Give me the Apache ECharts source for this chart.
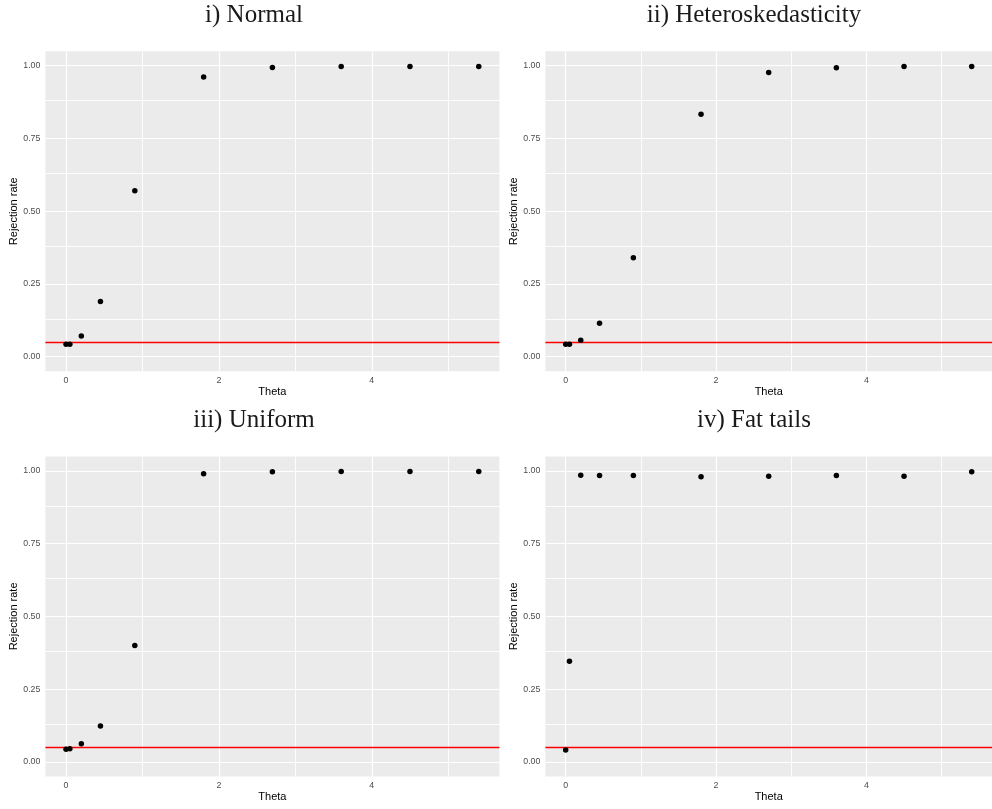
<!DOCTYPE html>
<html>
<head>
<meta charset="utf-8">
<script src="https://cdn.jsdelivr.net/npm/echarts@6/dist/echarts.min.js"></script>
<style>
  html, body { margin: 0; padding: 0; background: #ffffff; }
  #chart { width: 992px; height: 809px; }
</style>
</head>
<body>
<div id="chart"></div>
<script>
// ---- data ----
const theta = [0, 0.05, 0.2, 0.45, 0.9, 1.8, 2.7, 3.6, 4.5, 5.4];
const normalRate  = [0.043, 0.043, 0.071, 0.190, 0.570, 0.961, 0.994, 0.997, 0.997, 0.997];
const heteroRate  = [0.043, 0.043, 0.056, 0.115, 0.340, 0.833, 0.977, 0.993, 0.997, 0.997];
const uniformRate = [0.043, 0.045, 0.062, 0.123, 0.400, 0.990, 0.997, 0.998, 0.998, 0.998];
const fatRate     = [0.041, 0.346, 0.985, 0.984, 0.984, 0.980, 0.982, 0.984, 0.982, 0.997];
const panelTitles = ['i) Normal', 'ii) Heteroskedasticity', 'iii) Uniform', 'iv) Fat tails'];
const panelRates = [normalRate, heteroRate, uniformRate, fatRate];
const xMajorTicks = [0, 2, 4];
const xMinorTicks = [1, 3, 5];
const yMajorTicks = [0, 0.25, 0.5, 0.75, 1];
const yMinorTicks = [0.125, 0.375, 0.625, 0.875];
const nominalLevel = 0.05;
const xLabel = 'Theta';
const yLabel = 'Rejection rate';

// ---- layout ----
const layout = [
  { left: 45.4, top: 51.2, titleX: 254, titleY: 3 },
  { left: 545.4, top: 51.2, titleX: 754, titleY: 3 },
  { left: 45.4, top: 456.4, titleX: 254, titleY: 408 },
  { left: 545.4, top: 456.4, titleX: 754, titleY: 408 }
];
const gridW = 454, gridH = 320;

const titles = [], grids = [], xAxes = [], yAxes = [], series = [];
panelTitles.forEach((t, i) => {
  const L = layout[i];
  titles.push({
    text: t, left: L.titleX, top: L.titleY, textAlign: 'center', padding: 0,
    textStyle: { fontFamily: 'Liberation Serif', fontWeight: 'normal', fontSize: 25, color: '#1a1a1a' }
  });
  grids.push({
    left: L.left, top: L.top, width: gridW, height: gridH,
    show: true, backgroundColor: '#EBEBEB', borderWidth: 0, containLabel: false
  });
  xAxes.push({
    gridIndex: i, type: 'value', min: -0.27, max: 5.67,
    name: xLabel, nameLocation: 'middle', nameGap: 15,
    nameTextStyle: { fontFamily: 'Liberation Sans', fontSize: 11, color: '#000' },
    axisLine: { show: false },
    axisTick: { show: true, length: 3, customValues: xMajorTicks, lineStyle: { color: '#333333', width: 1 } },
    axisLabel: { customValues: xMajorTicks, margin: 5, fontFamily: 'Liberation Sans', fontSize: 8.8, color: '#4D4D4D' },
    splitLine: { show: false }
  });
  yAxes.push({
    gridIndex: i, type: 'value', min: -0.05, max: 1.05,
    name: yLabel, nameLocation: 'middle', nameGap: 25, nameRotate: 90,
    nameTextStyle: { fontFamily: 'Liberation Sans', fontSize: 11, color: '#000' },
    axisLine: { show: false },
    axisTick: { show: true, length: 3, customValues: yMajorTicks, lineStyle: { color: '#333333', width: 1 } },
    axisLabel: {
      customValues: yMajorTicks, margin: 5, fontFamily: 'Liberation Sans', fontSize: 8.8, color: '#4D4D4D',
      formatter: v => v.toFixed(2)
    },
    splitLine: { show: false }
  });
  const gridLineData = []
    .concat(xMinorTicks.map(v => ({ xAxis: v, lineStyle: { width: 0.9 } })))
    .concat(yMinorTicks.map(v => ({ yAxis: v, lineStyle: { width: 0.9 } })))
    .concat(xMajorTicks.map(v => ({ xAxis: v, lineStyle: { width: 1.2 } })))
    .concat(yMajorTicks.map(v => ({ yAxis: v, lineStyle: { width: 1.2 } })));
  series.push({
    type: 'line', xAxisIndex: i, yAxisIndex: i, data: [], z: 1, silent: true,
    markLine: {
      z: 1, zlevel: 0,
      silent: true, symbol: ['none', 'none'], animation: false,
      label: { show: false }, emphasis: { disabled: true },
      lineStyle: { color: '#FFFFFF', type: 'solid' },
      data: gridLineData
    }
  });
  series.push({
    type: 'line', xAxisIndex: i, yAxisIndex: i, data: [], z: 2, silent: true,
    markLine: {
      z: 2,
      silent: true, symbol: ['none', 'none'], animation: false,
      label: { show: false }, emphasis: { disabled: true },
      lineStyle: { color: '#FF0000', type: 'solid', width: 1.3 },
      data: [{ yAxis: nominalLevel }]
    }
  });
  series.push({
    type: 'scatter', xAxisIndex: i, yAxisIndex: i, z: 10,
    symbol: 'circle', symbolSize: 5.5,
    itemStyle: { color: '#000000', opacity: 1 },
    data: theta.map((x, k) => [x, panelRates[i][k]])
  });
});

const chart = echarts.init(document.getElementById('chart'), null, { renderer: 'canvas' });
chart.setOption({
  animation: false,
  backgroundColor: '#FFFFFF',
  title: titles,
  grid: grids,
  xAxis: xAxes,
  yAxis: yAxes,
  series: series
});
</script>
</body>
</html>
